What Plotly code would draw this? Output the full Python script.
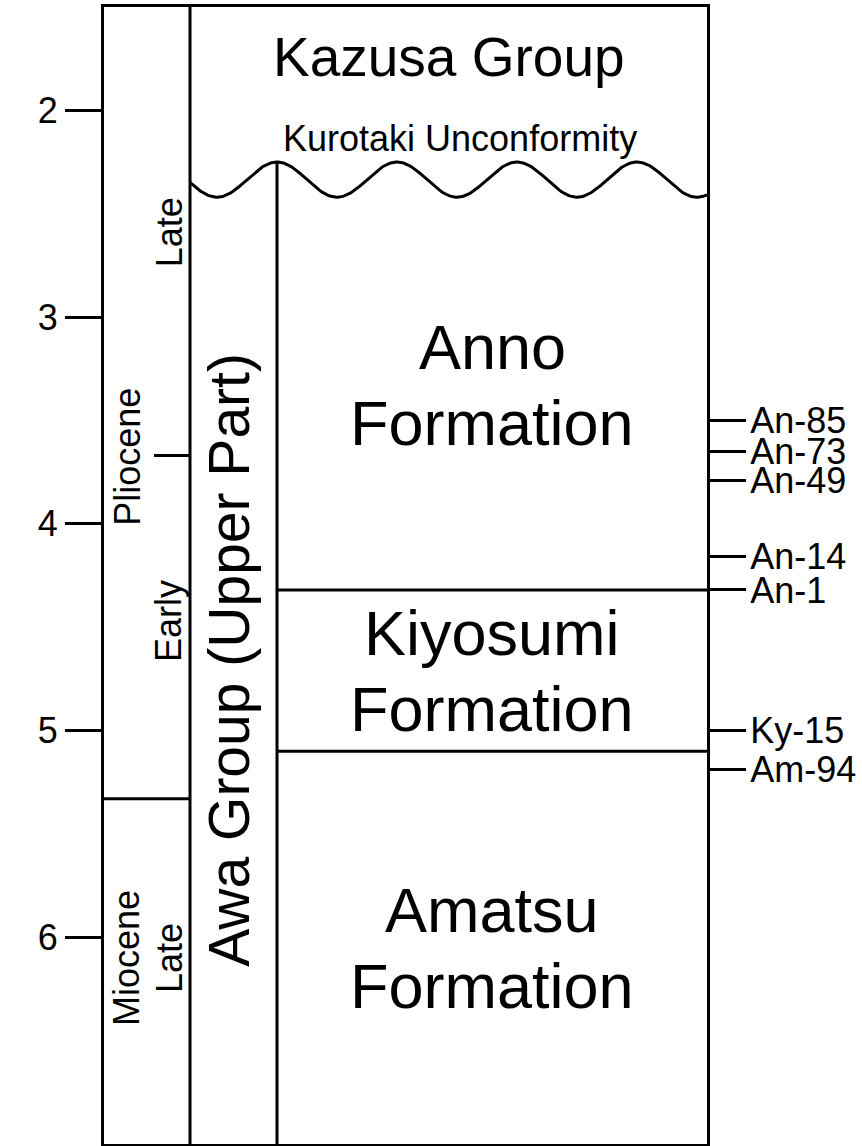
import numpy as np
import plotly.graph_objects as go

FONT = "Liberation Sans, Arial, Helvetica, sans-serif"

# ---- data (ages in Ma) ----
age_ticks = [2, 3, 4, 5, 6]
age_ticktext = ["2", "3", "4", "5", "6"]
sample_names = ["An-85", "An-73", "An-49", "An-14", "An-1", "Ky-15", "Am-94"]
sample_ages = [3.50, 3.65, 3.79, 4.16, 4.32, 5.00, 5.19]
formation_names = ["Anno", "Kiyosumi", "Amatsu"]
formation_bases = [4.32, 5.10, 7.0]
top_age, bottom_age = 1.5, 7.0
unconformity_age = 2.335          # mean level of the Kurotaki Unconformity
unconformity_relief = 0.085       # half-height of the wavy line
pliocene_miocene = 5.33
early_late_pliocene = 3.67

# column edges (horizontal layout units)
x_left, x_epoch, x_group, x_right = 104, 190, 277, 707
wave_period = 120

fig = go.Figure()

# wavy unconformity line
wx = np.linspace(x_epoch, x_right, 400)
wy = unconformity_age - unconformity_relief * np.cos(2 * np.pi * (wx - x_group) / wave_period)
fig.add_trace(go.Scatter(x=wx, y=wy, mode="lines", line=dict(color="black", width=3),
                         hoverinfo="skip", showlegend=False))
# dummy trace for the right axis
fig.add_trace(go.Scatter(x=[None], y=[None], yaxis="y2", showlegend=False, hoverinfo="skip"))

LINE = dict(color="black", width=3)
shapes = []
# column dividers
shapes.append(dict(type="line", xref="x", yref="y", x0=x_epoch, x1=x_epoch,
                   y0=top_age, y1=bottom_age, line=LINE))
shapes.append(dict(type="line", xref="x", yref="y", x0=x_group, x1=x_group,
                   y0=unconformity_age - unconformity_relief, y1=bottom_age, line=LINE))
# formation boundaries
for b in formation_bases[:-1]:
    shapes.append(dict(type="line", xref="x", yref="y", x0=x_group, x1=x_right,
                       y0=b, y1=b, line=LINE))
# epoch boundary
shapes.append(dict(type="line", xref="x", yref="y", x0=x_left, x1=x_epoch,
                   y0=pliocene_miocene, y1=pliocene_miocene, line=LINE))
# early / late pliocene tick
shapes.append(dict(type="line", xref="x", yref="y", x0=x_epoch - 36, x1=x_epoch,
                   y0=early_late_pliocene, y1=early_late_pliocene, line=LINE))

annotations = []


def ann(text, x, y, size, angle=0):
    annotations.append(dict(text=text, x=x, y=y, xref="x", yref="y", showarrow=False,
                            textangle=angle, xanchor="center", yanchor="middle",
                            font=dict(family=FONT, size=size, color="black")))


ann("Kazusa Group", 449, 1.742, 55)
ann("Kurotaki Unconformity", 460, 2.135, 36)

form_tops = [unconformity_age] + formation_bases[:-1]
x_form = (x_group + x_right) / 2
for name, t, b in zip(formation_names, form_tops, formation_bases):
    mid = (t + b) / 2
    ann(name, x_form, mid - 0.184, 63)
    ann("Formation", x_form, mid + 0.184, 63)

ann("Awa Group (Upper Part)", 229, 4.657, 57, -90)
ann("Late", 169, 2.59, 36, -90)
ann("Pliocene", 128, 3.676, 36, -90)
ann("Early", 169, 4.47, 36, -90)
ann("Miocene", 127, 6.10, 36, -90)
ann("Late", 170, 6.10, 36, -90)
ann("(Ma)", 47, 2.22, 35)

fig.update_layout(
    width=862, height=1146,
    margin=dict(l=104, r=155, t=7, b=2, pad=0),
    paper_bgcolor="white", plot_bgcolor="white",
    shapes=shapes, annotations=annotations,
    showlegend=False,
    xaxis=dict(range=[x_left, x_right], showgrid=False, zeroline=False,
               showticklabels=False, ticks="", showline=True, mirror=True,
               linecolor="black", linewidth=3, fixedrange=True),
    yaxis=dict(range=[bottom_age, top_age], tickvals=age_ticks, ticktext=age_ticktext,
               ticks="outside", ticklen=36, tickwidth=3, tickcolor="black",
               showline=True, linecolor="black", linewidth=3, showgrid=False,
               zeroline=False, tickfont=dict(family=FONT, size=36, color="black")),
    yaxis2=dict(range=[bottom_age, top_age], overlaying="y", side="right", anchor="x",
                tickvals=sample_ages, ticktext=sample_names,
                ticks="outside", ticklen=36, tickwidth=3, tickcolor="black",
                showline=True, linecolor="black", linewidth=3, showgrid=False,
                zeroline=False, ticklabelstandoff=-3,
                tickfont=dict(family=FONT, size=36, color="black")),
)

fig.write_html("out.html")
